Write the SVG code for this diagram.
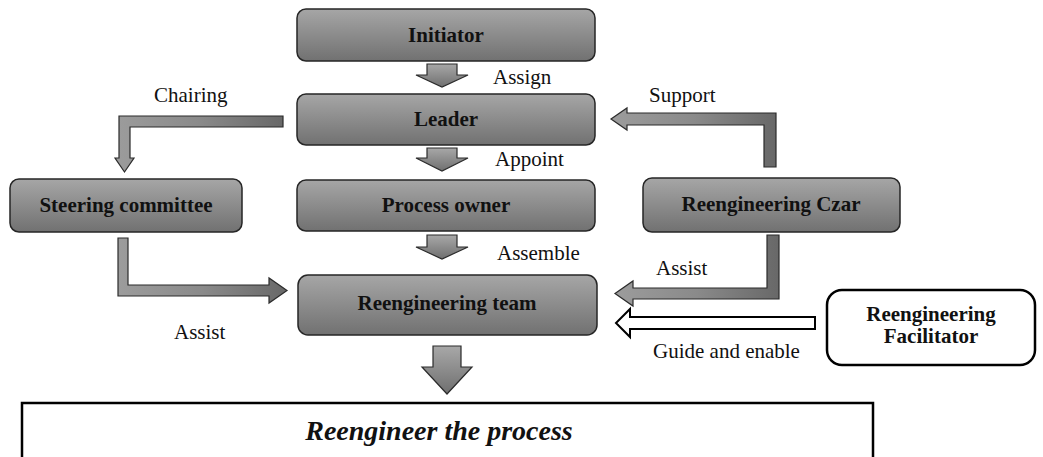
<svg xmlns="http://www.w3.org/2000/svg" width="1043" height="457" viewBox="0 0 1043 457" font-family="'Liberation Serif', Tinos, 'Times New Roman', Times, 'Nimbus Roman', serif">
  <defs>
    <linearGradient id="boxFill" x1="0" y1="0" x2="0" y2="1">
      <stop offset="0" stop-color="#a6a6a6"/>
      <stop offset="1" stop-color="#717171"/>
    </linearGradient>
    <linearGradient id="downFill" x1="0" y1="0" x2="0" y2="1">
      <stop offset="0" stop-color="#a8a8a8"/>
      <stop offset="1" stop-color="#6f6f6f"/>
    </linearGradient>
    <linearGradient id="bendFill" x1="0" y1="0" x2="1" y2="0">
      <stop offset="0" stop-color="#9c9c9c"/>
      <stop offset="0.5" stop-color="#8a8a8a"/>
      <stop offset="1" stop-color="#686868"/>
    </linearGradient>
    <style>
      .box { fill: url(#boxFill); stroke: #262626; stroke-width: 1.5; }
      .plain { fill: #ffffff; stroke: #000000; stroke-width: 2.5; }
      .down { fill: url(#downFill); stroke: #2b2b2b; stroke-width: 1.2; }
      .bend { fill: url(#bendFill); stroke: #2b2b2b; stroke-width: 1.2; }
      .hollow { fill: #ffffff; stroke: #000000; stroke-width: 2; }
      .title { font-size: 21px; font-weight: bold; fill: #111111; text-anchor: middle; }
      .label { font-size: 21px; fill: #111111; }
      .result { font-size: 28px; font-weight: bold; font-style: italic; fill: #111111; text-anchor: middle; }
    </style>
  </defs>

  <rect width="1043" height="457" fill="#ffffff"/>

  <!-- connectors -->
  <g id="connectors">
    <!-- Initiator -> Leader -->
    <polygon class="down" points="427,64 457,64 457,75 468,75 442,87 416,75 427,75"/>
    <!-- Leader -> Process owner -->
    <polygon class="down" points="427,148 457,148 457,158 468,158 442,171 416,158 427,158"/>
    <!-- Process owner -> Reengineering team -->
    <polygon class="down" points="427,235 457,235 457,247 468,247 442,259 416,247 427,247"/>
    <!-- Reengineering team -> result -->
    <polygon class="down" points="433,346 461,346 461,367 472,367 447,394 422,367 433,367"/>
    <!-- Leader -> Steering committee (Chairing) -->
    <polygon class="bend" points="283,116 283,127 130,127 130,158 134,158 124.5,172 115,158 119,158 119,116"/>
    <!-- Steering committee -> Reengineering team (Assist) -->
    <polygon class="bend" points="118,238 128,238 128,285 269,285 269,278 287,290.5 269,303 269,296 118,296"/>
    <!-- Reengineering Czar -> Leader (Support) -->
    <polygon class="bend" points="776,167 764,167 764,125 627,125 627,130 611,119 627,108 627,113 776,113"/>
    <!-- Reengineering Czar -> Reengineering team (Assist) -->
    <polygon class="bend" points="779,235 767,235 767,288 633,288 633,281 615,293.5 633,306 633,299 779,299"/>
    <!-- Reengineering Facilitator -> Reengineering team (Guide and enable) -->
    <polygon class="hollow" points="815,317 815,329 630,329 630,337 616,323 630,309 630,317"/>
  </g>

  <!-- connector labels -->
  <g id="labels">
    <text class="label" x="493" y="84">Assign</text>
    <text class="label" x="495" y="166">Appoint</text>
    <text class="label" x="497" y="260">Assemble</text>
    <text class="label" x="154" y="102">Chairing</text>
    <text class="label" x="649" y="102">Support</text>
    <text class="label" x="656" y="275">Assist</text>
    <text class="label" x="174" y="339">Assist</text>
    <text class="label" x="653" y="358">Guide and enable</text>
  </g>

  <!-- nodes -->
  <g id="initiator">
    <rect class="box" x="297" y="9" width="298" height="52" rx="9"/>
    <text class="title" x="446" y="42">Initiator</text>
  </g>
  <g id="leader">
    <rect class="box" x="297" y="94" width="298" height="51" rx="9"/>
    <text class="title" x="446" y="126">Leader</text>
  </g>
  <g id="process-owner">
    <rect class="box" x="297" y="180" width="298" height="51" rx="9"/>
    <text class="title" x="446" y="212">Process owner</text>
  </g>
  <g id="steering-committee">
    <rect class="box" x="10" y="179" width="232" height="53" rx="9"/>
    <text class="title" x="126" y="212">Steering committee</text>
  </g>
  <g id="reengineering-czar">
    <rect class="box" x="643" y="178" width="257" height="54" rx="9"/>
    <text class="title" x="771" y="211">Reengineering Czar</text>
  </g>
  <g id="reengineering-team">
    <rect class="box" x="298" y="275" width="299" height="60" rx="10"/>
    <text class="title" x="447" y="310">Reengineering team</text>
  </g>
  <g id="reengineering-facilitator">
    <rect class="plain" x="827" y="290" width="208" height="75" rx="15"/>
    <text class="title" x="931" y="321">Reengineering</text>
    <text class="title" x="931" y="343">Facilitator</text>
  </g>
  <g id="reengineer-the-process">
    <rect class="plain" x="22" y="403" width="851" height="80"/>
    <text class="result" x="439" y="440">Reengineer the process</text>
  </g>
</svg>
